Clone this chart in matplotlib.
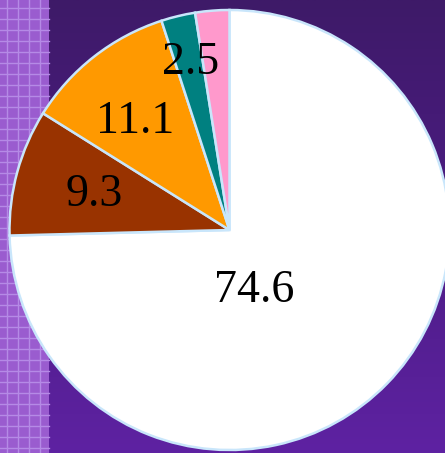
import matplotlib
matplotlib.use("Agg")
import matplotlib.pyplot as plt
import numpy as np
from matplotlib.colors import LinearSegmentedColormap

# Data
values = [74.6, 9.3, 11.1, 2.5, 2.5]
labels = ["74.6", "9.3", "11.1", "2.5", ""]
colors = ["#ffffff", "#993300", "#ff9900", "#008080", "#ff99cc"]
# label anchor positions (pixel layout, y measured upward)
label_pos = [(254, 162), (94, 258), (135, 331), (191, 390), None]

W, H = 445, 453
fig = plt.figure(figsize=(W / 100, H / 100), dpi=100)
ax = fig.add_axes([0, 0, 1, 1])

# Background gradient
cmap = LinearSegmentedColormap.from_list("bg", ["#5e22a2", "#4c1c84", "#3e1a68"])
grad = np.linspace(0, 1, 256).reshape(-1, 1)
ax.imshow(grad, extent=[0, W, 0, H], origin="lower", cmap=cmap, aspect="auto", zorder=0)

# Left textured strip
ax.add_patch(plt.Rectangle((0, 0), 49, H, facecolor="#9a5ccf", edgecolor="none", zorder=0.5))
for x in np.arange(7, 49, 11):
    ax.plot([x, x], [0, H], color="#b58ae6", lw=1.0, zorder=0.6)
for y in np.arange(H - 8, 0, -11):
    ax.plot([0, 49], [y, y], color="#b58ae6", lw=1.0, zorder=0.6)

# Pie
wedges, _ = ax.pie(values, colors=colors, startangle=90, counterclock=False,
                   center=(229.5, 223), radius=220,
                   wedgeprops=dict(edgecolor="#c9e6fb", linewidth=1.8), frame=True)
for w in wedges:
    w.set_zorder(2)

for lab, pos in zip(labels, label_pos):
    if pos and lab:
        ax.text(pos[0], pos[1], lab, ha="center", va="center", fontsize=33,
                family="Liberation Serif", color="black", zorder=3)

ax.set_xlim(0, W)
ax.set_ylim(0, H)
ax.set_aspect("auto")
ax.axis("off")

fig.savefig("out.png", dpi=100)
